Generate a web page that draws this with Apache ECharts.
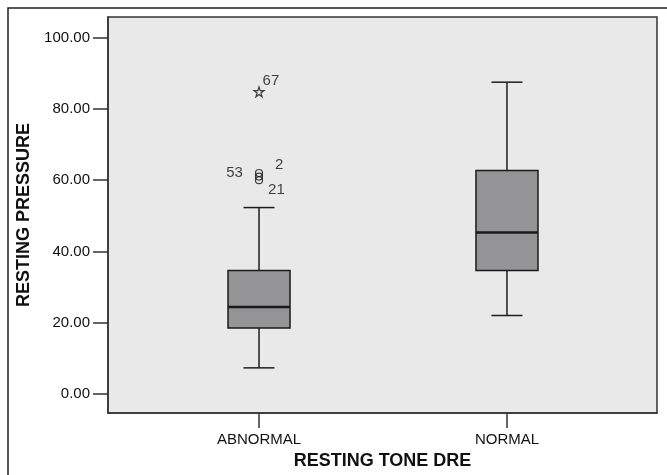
<!DOCTYPE html>
<html>
<head>
<meta charset="utf-8">
<title>Resting pressure boxplot</title>
<script src="https://cdn.jsdelivr.net/npm/echarts@6/dist/echarts.min.js"></script>
<style>
  html, body { margin: 0; padding: 0; background: #fff; }
  #boxChart { width: 667px; height: 475px; }
</style>
</head>
<body>
<div id="boxChart"></div>
<script>
// data
const categories = ['ABNORMAL', 'NORMAL']
// [low whisker, Q1, median, Q3, high whisker]
const boxStats = [
  [7.3, 18.5, 24.4, 34.6, 52.3],
  [22.0, 34.6, 45.3, 62.7, 87.5]
]
const yTicks = [0, 20, 40, 60, 80, 100]
// outliers: [category index, value], with case number
const circleOutliers = [[0, 62.0], [0, 61.0], [0, 60.0]]
const circleIds = ['2', '53', '21']
const starOutliers = [[0, 84.8]]
const starIds = ['67']

const font = "'Liberation Sans', Arial, Helvetica, sans-serif"
const starPath = 'path://M50,2 L61,36 L97,36 L68,57 L79,92 L50,71 L21,92 L32,57 L3,36 L39,36 Z'

// label offsets for each outlier case (position tweaks only)
const circleLabelPos = [
  { position: 'right', offset: [7, -8] },
  { position: 'left', offset: [-7, -4] },
  { position: 'right', offset: [0, 10] }
]

function renderBox(params, api) {
  let x = api.value(0)
  let low = api.coord([x, api.value(1)])
  let q1 = api.coord([x, api.value(2)])
  let med = api.coord([x, api.value(3)])
  let q3 = api.coord([x, api.value(4)])
  let high = api.coord([x, api.value(5)])
  let boxW = api.size([1, 0])[0] * 0.25
  let capW = boxW / 2
  let cx = low[0]
  let lineStyle = { stroke: '#1e1e1e', lineWidth: 1.5 }
  return {
    type: 'group',
    children: [
      { type: 'line', shape: { x1: cx, y1: low[1], x2: cx, y2: high[1] }, style: lineStyle },
      { type: 'line', shape: { x1: cx - capW / 2, y1: low[1], x2: cx + capW / 2, y2: low[1] }, style: lineStyle },
      { type: 'line', shape: { x1: cx - capW / 2, y1: high[1], x2: cx + capW / 2, y2: high[1] }, style: lineStyle },
      {
        type: 'rect',
        shape: { x: cx - boxW / 2, y: q3[1], width: boxW, height: q1[1] - q3[1] },
        style: { fill: '#949497', stroke: '#1a1a1a', lineWidth: 1.5 }
      },
      { type: 'line', shape: { x1: cx - boxW / 2, y1: med[1], x2: cx + boxW / 2, y2: med[1] }, style: { stroke: '#1a1a1a', lineWidth: 2.5 } }
    ]
  }
}

const chartOption = {
  animation: false,
  textStyle: { fontFamily: font },
  graphic: [
    {
      type: 'rect',
      shape: { x: 8, y: 8, width: 700, height: 500 },
      style: { fill: 'none', stroke: '#222', lineWidth: 1.5 },
      silent: true
    }
  ],
  grid: {
    left: 108,
    right: 10,
    top: 17,
    bottom: 59,
    show: true,
    backgroundColor: '#e9e9e9',
    borderColor: '#333',
    borderWidth: 1.5
  },
  xAxis: {
    type: 'value',
    min: -0.609,
    max: 1.605,
    name: 'RESTING TONE DRE',
    nameLocation: 'middle',
    nameGap: 37,
    nameTextStyle: { fontFamily: font, fontSize: 18, fontWeight: 'bold', color: '#111' },
    axisLine: { show: true, onZero: false, lineStyle: { color: '#333', width: 1.5 } },
    axisTick: {
      show: true,
      length: 15,
      customValues: categories.map((c, i) => i),
      lineStyle: { color: '#333', width: 1.5 }
    },
    axisLabel: {
      margin: 19,
      fontSize: 15,
      color: '#111',
      fontFamily: font,
      customValues: categories.map((c, i) => i),
      formatter: (v) => categories[Math.round(v)] || ''
    },
    splitLine: { show: false }
  },
  yAxis: {
    type: 'value',
    min: -5.4,
    max: 105.8,
    name: 'RESTING PRESSURE',
    nameLocation: 'middle',
    nameGap: 69,
    nameTextStyle: { fontFamily: font, fontSize: 18, fontWeight: 'bold', color: '#111' },
    axisLine: { show: true, onZero: false, lineStyle: { color: '#333', width: 1.5 } },
    axisTick: {
      show: true,
      length: 15,
      customValues: yTicks,
      lineStyle: { color: '#333', width: 1.5 }
    },
    axisLabel: {
      margin: 18,
      fontSize: 15,
      color: '#111',
      fontFamily: font,
      customValues: yTicks,
      formatter: (v) => v.toFixed(2)
    },
    splitLine: { show: false }
  },
  series: [
    {
      type: 'custom',
      renderItem: renderBox,
      encode: { x: 0, y: [1, 2, 3, 4, 5] },
      data: boxStats.map((s, i) => [i].concat(s)),
      z: 2
    },
    {
      type: 'scatter',
      symbol: 'circle',
      symbolSize: 7,
      itemStyle: { color: 'rgba(0,0,0,0)', borderColor: '#111', borderWidth: 1.2 },
      label: { show: true, color: '#111', fontSize: 15, fontFamily: font },
      data: circleOutliers.map((p, i) => ({
        value: p,
        label: Object.assign({ formatter: circleIds[i] }, circleLabelPos[i])
      })),
      z: 3
    },
    {
      type: 'scatter',
      symbol: starPath,
      symbolSize: 10,
      itemStyle: { color: 'rgba(0,0,0,0)', borderColor: '#111', borderWidth: 1.2 },
      label: { show: true, color: '#111', fontSize: 15, fontFamily: font, position: 'right', offset: [-7, -11] },
      data: starOutliers.map((p, i) => ({ value: p, label: { formatter: starIds[i] } })),
      z: 3
    }
  ]
}

const myChart = echarts.init(document.getElementById('boxChart'))
myChart.setOption(chartOption, true)
</script>
</body>
</html>
